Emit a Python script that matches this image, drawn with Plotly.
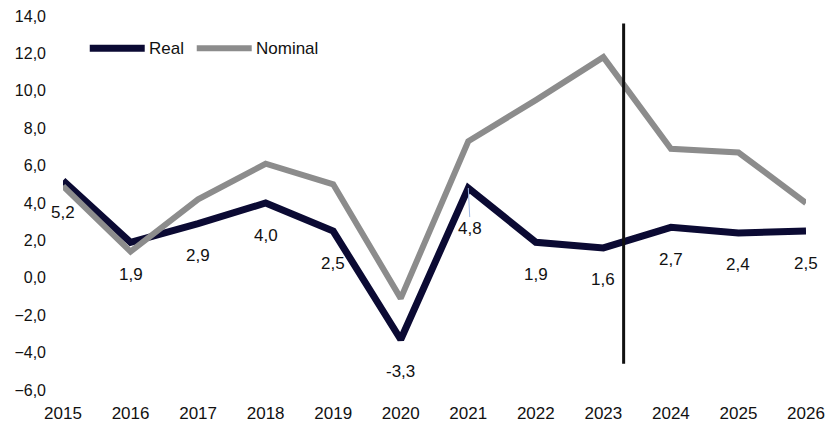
import plotly.graph_objects as go

years = [2015, 2016, 2017, 2018, 2019, 2020, 2021, 2022, 2023, 2024, 2025, 2026]
real = [5.2, 1.9, 2.9, 4.0, 2.5, -3.3, 4.8, 1.9, 1.6, 2.7, 2.4, 2.5]
nominal = [4.9, 1.4, 4.2, 6.1, 5.0, -1.1, 7.3, 9.5, 11.8, 6.9, 6.7, 4.0]
y_ticks = [-6, -4, -2, 0, 2, 4, 6, 8, 10, 12, 14]
series_names = ["Real", "Nominal"]
forecast_x = 2023.3
forecast_y = [-4.6, 13.6]

REAL_C = "#0b0a33"
NOM_C = "#8c8c8c"
FONT = "Liberation Sans, Arial, sans-serif"

fig = go.Figure()
fig.add_trace(go.Scatter(x=years, y=real, mode="lines", name=series_names[0],
                         line=dict(color=REAL_C, width=7), showlegend=False))
fig.add_trace(go.Scatter(x=years, y=nominal, mode="lines", name=series_names[1],
                         line=dict(color=NOM_C, width=6), showlegend=False))
fig.add_shape(type="line", x0=forecast_x, x1=forecast_x, y0=forecast_y[0], y1=forecast_y[1],
              xref="x", yref="y", line=dict(color="#111111", width=3))

# custom legend (paper coordinates)
leg_y = 0.914
for (x0, x1, tx), name, col, w in zip([(0.036, 0.110, 0.113), (0.180, 0.254, 0.257)],
                                       series_names, [REAL_C, NOM_C], [7, 6]):
    fig.add_shape(type="line", xref="paper", yref="paper", x0=x0, x1=x1, y0=leg_y, y1=leg_y,
                  line=dict(color=col, width=w))
    fig.add_annotation(xref="paper", yref="paper", x=tx, y=leg_y, text=name, showarrow=False,
                       xanchor="left", yanchor="middle",
                       font=dict(family=FONT, size=17, color="#111111"))

for x, v in zip(years, real):
    txt = f"{v:.1f}".replace(".", ",")
    if x == 2021:
        fig.add_annotation(x=x, y=v, text=txt, showarrow=True, ax=2, ay=40,
                           arrowhead=0, arrowwidth=1, arrowcolor="#9db8e6", standoff=0,
                           font=dict(family=FONT, size=17, color="#111111"))
    else:
        fig.add_annotation(x=x, y=v, text=txt, showarrow=False, yshift=-32,
                           font=dict(family=FONT, size=17, color="#111111"))

fig.update_layout(
    width=831, height=424,
    margin=dict(l=63, r=25, t=16, b=34, autoexpand=False),
    paper_bgcolor="white", plot_bgcolor="white",
    separators=",.",
    font=dict(family=FONT, size=16, color="#111111"),
    showlegend=False,
)
fig.update_xaxes(range=[2015, 2026], tickvals=years, ticktext=[str(y) for y in years],
                 showgrid=False, zeroline=False, showline=False, ticks="",
                 tickfont=dict(size=17), ticklabelstandoff=11, automargin=False,
                 ticklabeloverflow="allow")
fig.update_yaxes(range=[-6, 14], tickvals=y_ticks, tickformat=".1f",
                 showgrid=False, zeroline=False, showline=False, ticks="",
                 tickfont=dict(size=16), ticklabelstandoff=16, automargin=False,
                 ticklabeloverflow="allow")

# remove the browser's default 8px body margin so the 831x424 figure fills the window
fig.write_html("out.html", config={"displayModeBar": False},
               post_script="document.body.style.margin='0';")
